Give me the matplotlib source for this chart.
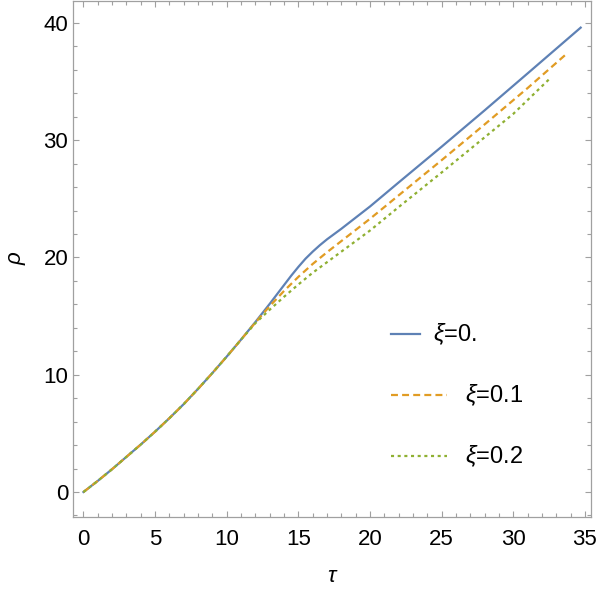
import matplotlib
matplotlib.use("Agg")
import matplotlib.pyplot as plt
from matplotlib.lines import Line2D
from matplotlib.ticker import MultipleLocator

plt.rcParams['font.family'] = ['Liberation Sans', 'DejaVu Sans']
plt.rcParams['mathtext.fontset'] = 'custom'
plt.rcParams['mathtext.rm'] = 'Liberation Sans'
plt.rcParams['mathtext.it'] = 'Liberation Sans:italic'
plt.rcParams['lines.scale_dashes'] = False

# ---- data ----
tau_common = [0, 1, 2, 3, 4, 5, 6, 7, 8, 9, 10, 11]
rho_common = [0, 0.95, 1.95, 3.0, 4.05, 5.15, 6.3, 7.5, 8.8, 10.15, 11.55, 13.0]

tau_xi0 = [12, 13, 14, 14.5, 15, 15.5, 16, 16.5, 17, 17.5, 18, 19, 20, 22, 25, 28, 31, 34.7]
rho_xi0 = [14.5, 16.05, 17.65, 18.45, 19.2, 19.9, 20.5, 21.05, 21.55, 22.0, 22.45, 23.4, 24.35, 26.4, 29.45, 32.55, 35.7, 39.6]

tau_xi01 = [12, 13, 14, 15, 16, 17, 18, 19, 20, 22, 25, 28, 31, 33.7]
rho_xi01 = [14.45, 15.85, 17.15, 18.35, 19.45, 20.45, 21.4, 22.35, 23.3, 25.3, 28.3, 31.35, 34.45, 37.35]

tau_xi02 = [12, 13, 14, 15, 16, 17, 18, 19, 20, 22, 25, 28, 30, 32.5]
rho_xi02 = [14.4, 15.55, 16.65, 17.7, 18.7, 19.6, 20.5, 21.4, 22.3, 24.3, 27.25, 30.25, 32.25, 35.2]

labels = [r'$\xi$=0.', r'$\xi$=0.1', r'$\xi$=0.2']
colors = ['#5E81B5', '#E19C24', '#8FB032']

fig = plt.figure(figsize=(6.0, 5.98), dpi=100)
ax = fig.add_axes([73/600, (598-517)/598, (591-73)/600, 516/598])

series = [(tau_xi0, rho_xi0), (tau_xi01, rho_xi01), (tau_xi02, rho_xi02)]
styles = [dict(linestyle='-'), dict(dashes=(5, 3)), dict(dashes=(2.2, 2.6))]
for (t, r), c, st in zip(series, colors, styles):
    ax.plot(tau_common + t, rho_common + r, color=c, lw=1.6, **st)

ax.set_xlim(-0.73, 35.42)
ax.set_ylim(-2.13, 41.87)

ax.xaxis.set_major_locator(MultipleLocator(5))
ax.xaxis.set_minor_locator(MultipleLocator(1))
ax.yaxis.set_major_locator(MultipleLocator(10))
ax.yaxis.set_minor_locator(MultipleLocator(2))

frame_c = '#a0a0a0'
for s in ax.spines.values():
    s.set_color(frame_c)
    s.set_linewidth(0.9)
ax.tick_params(which='both', direction='in', top=True, right=True,
               color=frame_c, labelcolor='black', width=0.8)
ax.tick_params(which='major', length=4.5, labelsize=16)
ax.tick_params(which='minor', length=2.8)
ax.tick_params(axis='x', which='major', pad=8.5)
ax.tick_params(axis='y', which='major', pad=3.5)

fig.text(333/600, 1 - 576/598, r'$\tau$', fontsize=16, ha='center', va='center')
fig.text(17/600, 1 - 258/598, r'$\rho$', fontsize=16, ha='center', va='center', rotation=90)

# legend drawn manually
leg_y = [334, 395, 456]
leg_x0 = [391, 391, 391]
leg_x1 = [420, 447, 447]
leg_tx = [433, 465, 465]
for i in range(3):
    y = 1 - leg_y[i] / 598
    ln = Line2D([leg_x0[i] / 600, leg_x1[i] / 600], [y, y], color=colors[i], lw=1.6,
                transform=fig.transFigure, **styles[i])
    fig.add_artist(ln)
    fig.text(leg_tx[i] / 600, y, labels[i], fontsize=17, ha='left', va='center')

fig.savefig('out.png', dpi=100)
